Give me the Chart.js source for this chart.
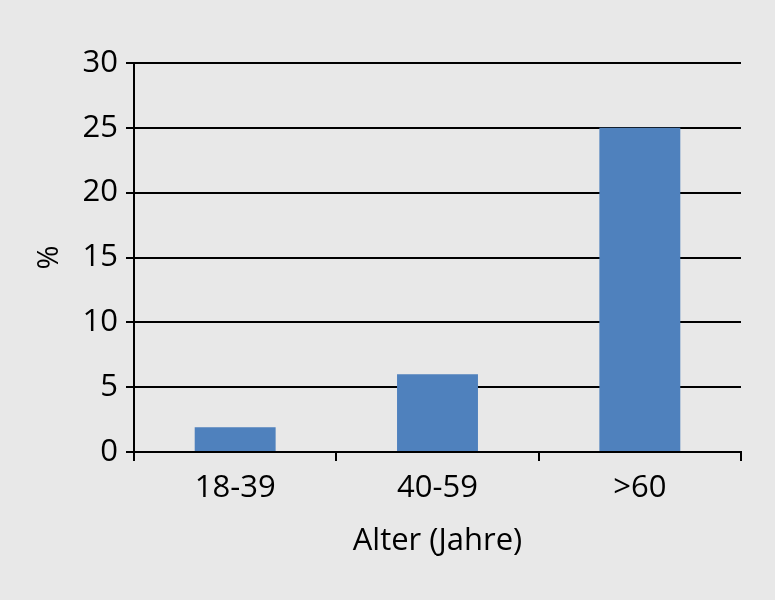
<!DOCTYPE html>
<html>
<head>
<meta charset="utf-8">
<script src="https://cdn.jsdelivr.net/npm/chart.js@4/dist/chart.umd.min.js"></script>
<style>
html,body{margin:0;padding:0;background:#e8e8e8;}
#wrap{width:775px;height:600px;position:relative;}
</style>
</head>
<body>
<div id="wrap"><canvas id="c" width="775" height="600"></canvas></div>
<script>
const categories = ["18-39", "40-59", ">60"];
const values = [1.9, 6.0, 25.0];
const yTicks = [0, 5, 10, 15, 20, 25, 30];
const xTitle = "Alter (Jahre)";
const yTitle = "%";

const FONT = "'Open Sans', 'DejaVu Sans', sans-serif";
const bgPlugin = {
  id: 'bg',
  beforeDraw(chart) {
    const ctx = chart.ctx;
    ctx.save();
    ctx.fillStyle = '#e8e8e8';
    ctx.fillRect(0, 0, chart.width, chart.height);
    ctx.restore();
  }
};

new Chart(document.getElementById('c'), {
  type: 'bar',
  data: {
    labels: categories,
    datasets: [{
      data: values,
      backgroundColor: '#4f81bd',
      borderWidth: 0,
      barPercentage: 0.4,
      categoryPercentage: 1.0
    }]
  },
  options: {
    responsive: false,
    animation: false,
    devicePixelRatio: 1,
    layout: { padding: { top: 63, right: 34, left: 0, bottom: 40 } },
    plugins: { legend: { display: false }, tooltip: { enabled: false } },
    scales: {
      x: {
        offset: true,
        grid: { offset: true, drawOnChartArea: false, drawTicks: true, tickLength: 9, color: '#000', lineWidth: 2 },
        border: { color: '#000', width: 2 },
        ticks: { color: '#000', font: { family: FONT, size: 31 }, padding: 9, maxRotation: 0 },
        title: { display: true, text: xTitle, color: '#000', font: { family: FONT, size: 31 }, padding: { top: 10, bottom: 0 } },
        afterFit(scale) { scale.height = 108; }
      },
      y: {
        min: 0, max: 30,
        afterBuildTicks(scale) { scale.ticks = yTicks.map(v => ({ value: v })); },
        grid: { color: '#000', lineWidth: 2, tickLength: 8 },
        border: { color: '#000', width: 2 },
        ticks: { color: '#000', font: { family: FONT, size: 31 }, padding: 8 },
        title: { display: true, text: yTitle, color: '#000', font: { family: FONT, size: 29 }, padding: { top: 32, bottom: 0 } },
        afterFit(scale) { scale.width = 134; }
      }
    }
  },
  plugins: [bgPlugin]
});
</script>
</body>
</html>
